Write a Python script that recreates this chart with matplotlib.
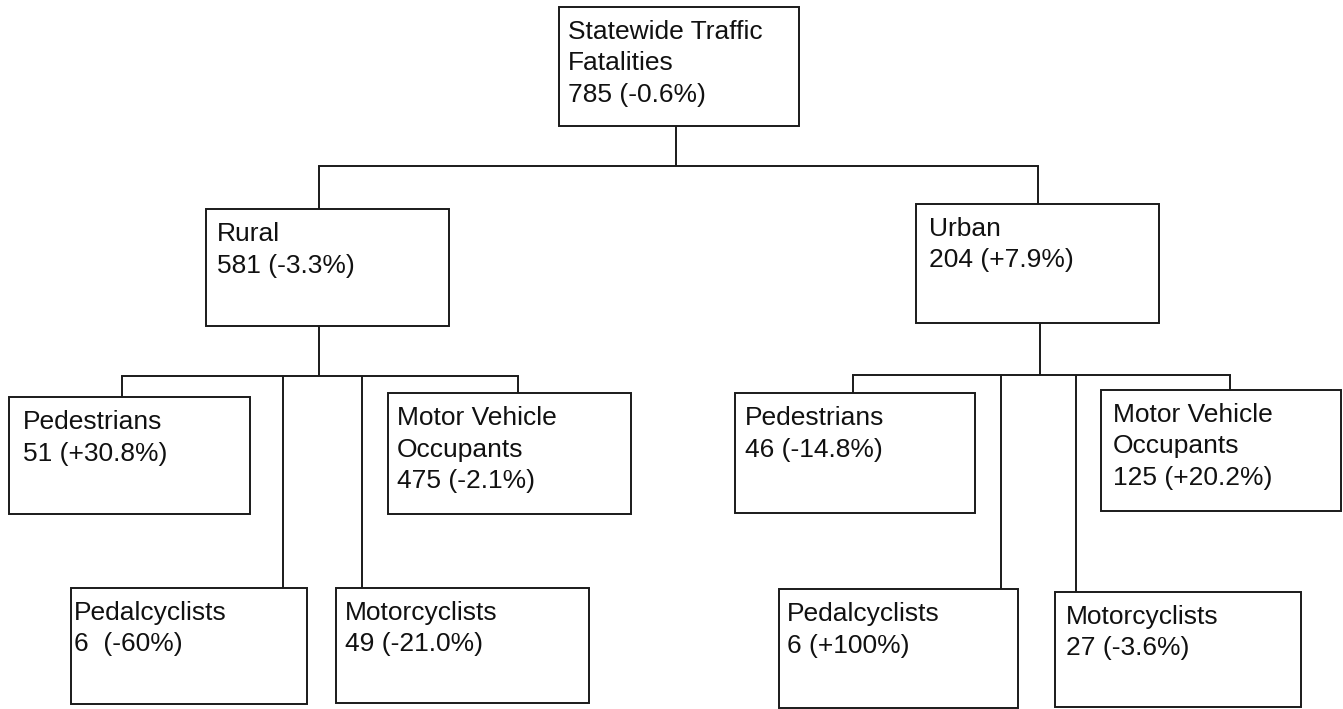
import matplotlib
matplotlib.use("Agg")
import matplotlib.pyplot as plt
from matplotlib.patches import Rectangle

# ---- data ----
node_names = ["Statewide Traffic\nFatalities", "Rural", "Urban",
              "Pedestrians", "Pedalcyclists", "Motorcyclists", "Motor Vehicle\nOccupants",
              "Pedestrians", "Pedalcyclists", "Motorcyclists", "Motor Vehicle\nOccupants"]
fatalities = [785, 581, 204, 51, 6, 49, 475, 46, 6, 27, 125]
pct_change = ["-0.6%", "-3.3%", "+7.9%", "+30.8%", "-60%", "-21.0%", "-2.1%",
              "-14.8%", "+100%", "-3.6%", "+20.2%"]
gap = [" ", " ", " ", " ", "  ", " ", " ", " ", " ", " ", " "]
parent = [None, 0, 0, 1, 1, 1, 1, 2, 2, 2, 2]

# ---- layout (pixel coords, y downward) ----
boxes = [(559, 7, 799, 126), (206, 209, 449, 326), (916, 204, 1159, 323),
         (9, 397, 250, 514), (71, 588, 307, 704), (336, 588, 589, 703), (388, 393, 631, 514),
         (735, 393, 975, 513), (779, 589, 1018, 708), (1055, 592, 1301, 707), (1101, 390, 1341, 511)]
text_dx = [9, 11, 13, 14, 3, 9, 9, 10, 8, 11, 12]
drop_x = [None, 319, 1038, 122, 283, 362, 518, 853, 1001, 1076, 1230]
stem_x = {0: 676, 1: 319, 2: 1040}
bus_y = {0: 166, 1: 376, 2: 375}

W, H = 1343, 709
fig = plt.figure(figsize=(W / 100, H / 100), dpi=100)
ax = fig.add_axes([0, 0, 1, 1])
ax.set_xlim(0, W)
ax.set_ylim(H, 0)
ax.axis("off")

lc = "#1a1a1a"
lw = 1.4
plt.rcParams['font.family'] = ['Liberation Sans', 'DejaVu Sans']

# connectors
for p, sx in stem_x.items():
    children = [i for i, q in enumerate(parent) if q == p]
    bx = boxes[p]
    ax.plot([sx, sx], [bx[3], bus_y[p]], color=lc, lw=lw, solid_capstyle="butt")
    xs = [drop_x[c] for c in children]
    ax.plot([min(xs), max(xs)], [bus_y[p], bus_y[p]], color=lc, lw=lw, solid_capstyle="projecting")
    for c in children:
        ax.plot([drop_x[c], drop_x[c]], [bus_y[p], boxes[c][1]], color=lc, lw=lw, solid_capstyle="butt")

# boxes + text
for i, (x0, y0, x1, y1) in enumerate(boxes):
    ax.add_patch(Rectangle((x0, y0), x1 - x0, y1 - y0, facecolor="white",
                           edgecolor=lc, lw=lw, zorder=3))
    lines = node_names[i].split("\n") + [f"{fatalities[i]}{gap[i]}({pct_change[i]})"]
    for k, ln in enumerate(lines):
        ax.text(x0 + text_dx[i], y0 + 25 + k * 31.5, ln, fontsize=19,
                ha="left", va="center", color="#111111", zorder=4,
                family=['Liberation Sans', 'DejaVu Sans'])

fig.savefig("out.png", dpi=100, facecolor="white")
